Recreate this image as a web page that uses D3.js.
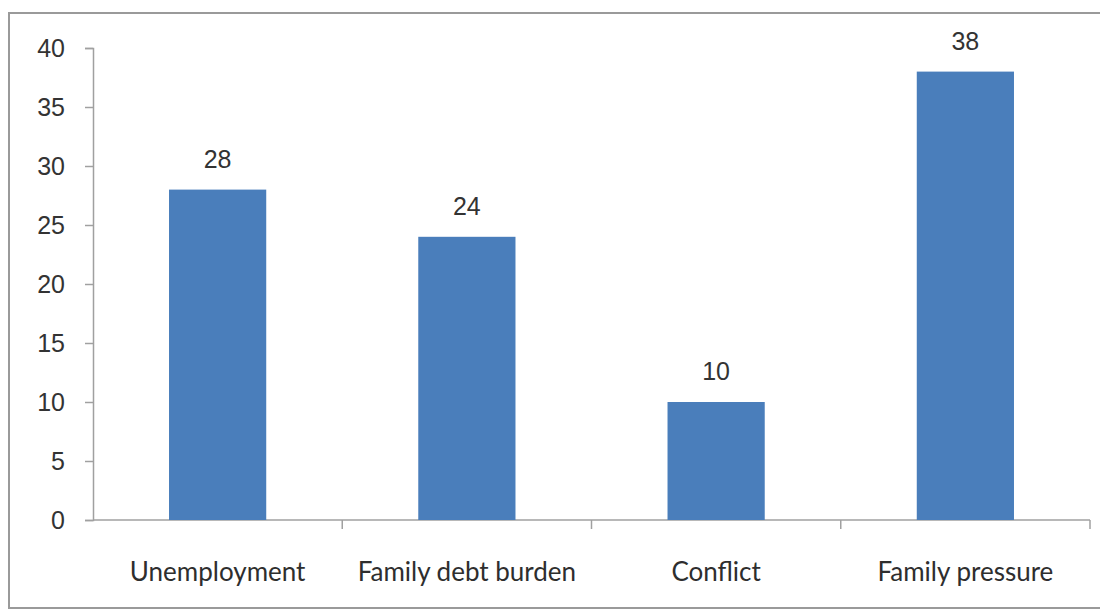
<!DOCTYPE html>
<html>
<head>
<meta charset="utf-8">
<script src="https://cdn.jsdelivr.net/npm/d3@7"></script>
<style>
  html, body { margin: 0; padding: 0; background: #fff; }
  svg { display: block; }
</style>
</head>
<body>
<svg id="chart" width="1100" height="610"></svg>
<script>
// Reasons cited, count per category
const categories = ["Unemployment", "Family debt burden", "Conflict", "Family pressure"];
const values = [28, 24, 10, 38];
const yTicks = [0, 5, 10, 15, 20, 25, 30, 35, 40];

const svg = d3.select("#chart");
const W = 1100, H = 610;

// Chart frame
svg.append("rect")
  .attr("x", 9).attr("y", 13)
  .attr("width", W + 10).attr("height", 595)
  .attr("fill", "#fff")
  .attr("stroke", "#9a9a9a")
  .attr("stroke-width", 2);

const x = d3.scaleBand()
  .domain(categories)
  .range([93, 1090])
  .paddingInner(0.61)
  .paddingOuter(0.305);

const y = d3.scaleLinear()
  .domain([0, 40])
  .range([520, 48]);

// Y axis
const yAxis = svg.append("g")
  .attr("transform", "translate(93,0)")
  .call(d3.axisLeft(y).tickValues(yTicks).tickSize(8).tickPadding(20));
yAxis.select(".domain").attr("stroke", "#a0a0a0").attr("stroke-width", 1.5);
yAxis.selectAll(".tick line").attr("stroke", "#a0a0a0").attr("stroke-width", 1.5);
yAxis.selectAll(".tick text")
  .attr("font-family", "Liberation Sans, Arial, sans-serif")
  .attr("font-size", 25)
  .attr("fill", "#333");

// X axis: ticks on band boundaries
const bounds = [93].concat(categories.map(c => x(c) + x.bandwidth() + x.step() * x.paddingInner() / 2));
bounds[bounds.length - 1] = 1090;
const xg = svg.append("g");
xg.append("line")
  .attr("x1", 93).attr("x2", 1090)
  .attr("y1", y(0)).attr("y2", y(0))
  .attr("stroke", "#a0a0a0").attr("stroke-width", 1.5);
xg.selectAll("line.tk")
  .data(bounds.slice(1))
  .join("line")
  .attr("class", "tk")
  .attr("x1", d => d).attr("x2", d => d)
  .attr("y1", y(0)).attr("y2", y(0) + 9)
  .attr("stroke", "#a0a0a0").attr("stroke-width", 1.5);

// Bars
svg.selectAll("rect.bar")
  .data(values)
  .join("rect")
  .attr("class", "bar")
  .attr("x", (d, i) => x(categories[i]))
  .attr("width", x.bandwidth())
  .attr("y", d => y(d))
  .attr("height", d => y(0) - y(d))
  .attr("fill", "#4a7ebb");

// Value labels
svg.selectAll("text.val")
  .data(values)
  .join("text")
  .attr("class", "val")
  .attr("x", (d, i) => x(categories[i]) + x.bandwidth() / 2)
  .attr("y", d => y(d) - 22)
  .attr("text-anchor", "middle")
  .attr("font-family", "Liberation Sans, Arial, sans-serif")
  .attr("font-size", 25)
  .attr("fill", "#333")
  .text(d => d);

// Category labels
svg.selectAll("text.cat")
  .data(categories)
  .join("text")
  .attr("class", "cat")
  .attr("x", d => x(d) + x.bandwidth() / 2)
  .attr("y", 581)
  .attr("text-anchor", "middle")
  .attr("font-family", "Lato, Open Sans, sans-serif")
  .attr("font-size", 26)
  .attr("fill", "#2e2e2e")
  .text(d => d);
</script>
</body>
</html>
